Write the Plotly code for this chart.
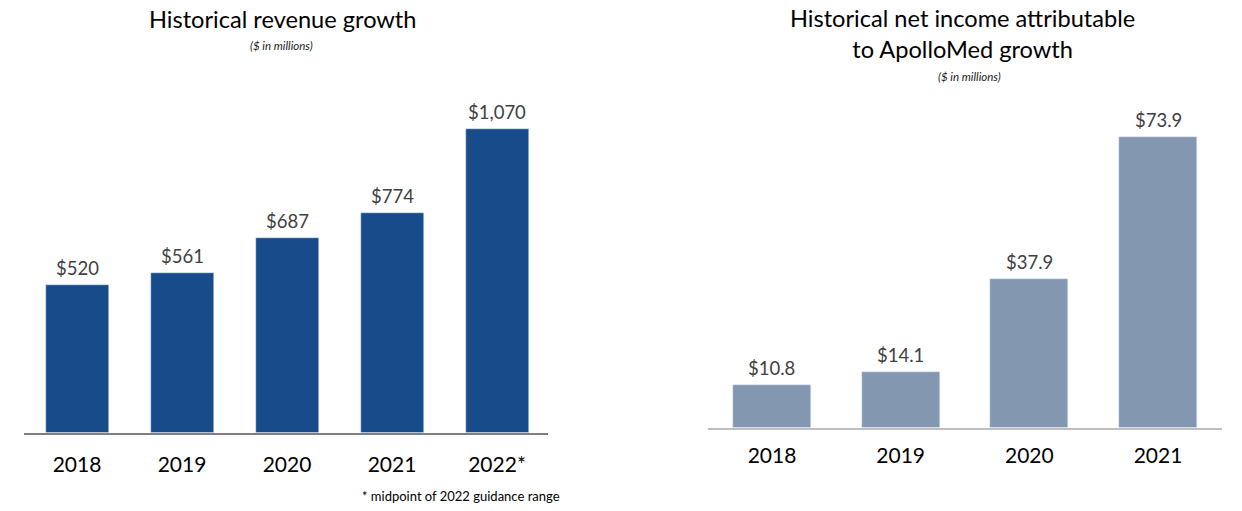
import plotly.graph_objects as go

W, H = 1242, 511

rev_years = ["2018", "2019", "2020", "2021", "2022*"]
rev_values = [520, 561, 687, 774, 1070]
rev_labels = ["$520", "$561", "$687", "$774", "$1,070"]

ni_years = ["2018", "2019", "2020", "2021"]
ni_values = [10.8, 14.1, 37.9, 73.9]
ni_labels = ["$10.8", "$14.1", "$37.9", "$73.9"]

FONT = "Lato"
BLUE = "#174B8A"
GREYBLUE = "#8497B0"

def px_x(p):
    return p / W

def px_y(p):
    return (H - p) / H

fig = go.Figure()

fig.add_trace(go.Bar(
    x=list(range(len(rev_years))), y=rev_values, marker_color=BLUE,
    width=0.6, xaxis="x", yaxis="y", showlegend=False, hoverinfo="skip",
))
fig.add_trace(go.Bar(
    x=list(range(len(ni_years))), y=ni_values, marker_color=GREYBLUE,
    width=0.606, xaxis="x2", yaxis="y2", showlegend=False, hoverinfo="skip",
))

annotations = []
for i, (v, t) in enumerate(zip(rev_values, rev_labels)):
    annotations.append(dict(x=i, y=v, xref="x", yref="y", text=t, showarrow=False,
                            yanchor="bottom", yshift=4,
                            font=dict(family=FONT, size=18.5, color="#404040")))
for i, (v, t) in enumerate(zip(ni_values, ni_labels)):
    annotations.append(dict(x=i, y=v, xref="x2", yref="y2", text=t, showarrow=False,
                            yanchor="bottom", yshift=4,
                            font=dict(family=FONT, size=18.5, color="#404040")))

# titles
annotations += [
    dict(x=px_x(283), y=px_y(19), xref="paper", yref="paper", text="Historical revenue growth",
         showarrow=False, xanchor="center", yanchor="middle",
         font=dict(family=FONT, size=23.6, color="#000000")),
    dict(x=px_x(281), y=px_y(45), xref="paper", yref="paper", text="<i>($ in millions)</i>",
         showarrow=False, xanchor="center", yanchor="middle",
         font=dict(family=FONT, size=11.5, color="#222222")),
    dict(x=px_x(962), y=px_y(33), xref="paper", yref="paper",
         text="Historical net income attributable<br>to ApolloMed growth",
         showarrow=False, xanchor="center", yanchor="middle",
         font=dict(family=FONT, size=23.6, color="#000000")),
    dict(x=px_x(969), y=px_y(76), xref="paper", yref="paper", text="<i>($ in millions)</i>",
         showarrow=False, xanchor="center", yanchor="middle",
         font=dict(family=FONT, size=11.5, color="#222222")),
    dict(x=px_x(461), y=px_y(496), xref="paper", yref="paper",
         text="* midpoint of 2022 guidance range",
         showarrow=False, xanchor="center", yanchor="middle",
         font=dict(family=FONT, size=13, color="#000000")),
]

left_scale = 0.2835   # px per unit
right_scale = 3.93
left_zero, left_top = 432.5, 100
right_zero, right_top = 427.5, 100

fig.update_layout(
    width=W, height=H,
    margin=dict(l=0, r=0, t=0, b=0),
    paper_bgcolor="white", plot_bgcolor="white",
    font=dict(family=FONT),
    annotations=annotations,
    xaxis=dict(
        domain=[px_x(24), px_x(548)],
        range=[-(77 - 24) / 105, 4 + (548 - 497) / 105],
        tickmode="array", tickvals=list(range(len(rev_years))), ticktext=rev_years,
        showline=True, linecolor="#808080", linewidth=1.5,
        ticks="outside", ticklen=13, tickcolor="rgba(0,0,0,0)",
        tickfont=dict(family=FONT, size=21, color="#000000"),
        showgrid=False, zeroline=False, fixedrange=True,
    ),
    yaxis=dict(
        domain=[px_y(left_zero), px_y(left_top)],
        range=[0, (left_zero - left_top) / left_scale],
        visible=False, showgrid=False, zeroline=False, fixedrange=True,
    ),
    xaxis2=dict(
        domain=[px_x(708), px_x(1222)],
        range=[-(772 - 708) / 128.7, 3 + (1222 - 1158) / 128.7],
        tickmode="array", tickvals=list(range(len(ni_years))), ticktext=ni_years,
        showline=True, linecolor="#BFBFBF", linewidth=2,
        ticks="outside", ticklen=8, tickcolor="rgba(0,0,0,0)",
        tickfont=dict(family=FONT, size=21, color="#000000"),
        showgrid=False, zeroline=False, fixedrange=True, anchor="y2",
    ),
    yaxis2=dict(
        domain=[px_y(right_zero), px_y(right_top)],
        range=[0, (right_zero - right_top) / right_scale],
        visible=False, showgrid=False, zeroline=False, fixedrange=True, anchor="x2",
    ),
    bargap=0,
)

fig.write_html("out.html", config={"displayModeBar": False},
               post_script="document.body.style.margin='0';document.body.style.overflow='hidden';")
